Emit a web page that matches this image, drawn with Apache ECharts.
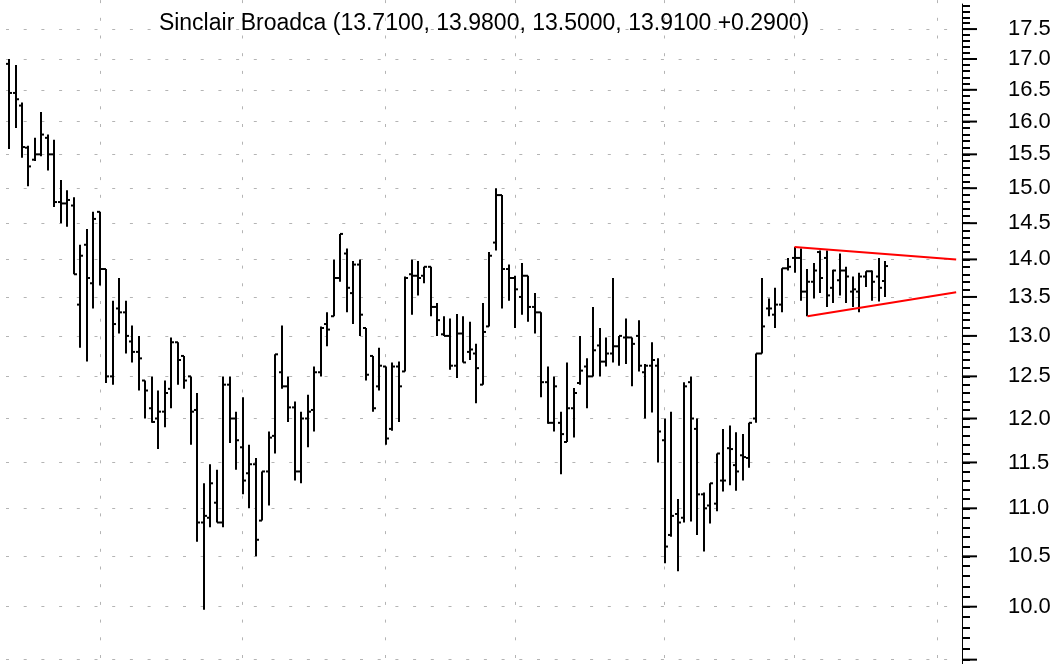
<!DOCTYPE html>
<html>
<head>
<meta charset="utf-8">
<title>Sinclair Broadca</title>
<script src="https://cdn.jsdelivr.net/npm/echarts@6/dist/echarts.min.js"></script>
<style>
  html, body { margin: 0; padding: 0; background: #fff; }
  #chart { width: 1061px; height: 664px; }
</style>
</head>
<body>
<div id="chart"></div>
<script>
// daily OHLC bars, oldest first
const opens = [
  16.92, 16.45, 16.25, 15.6, 15.42, 15.5, 15.75, 15.5, 14.8, 14.78,
  14.75, 13.4, 14.2, 13.68, 14.66, 13.87, 12.5, 13.35, 13.3, 12.93,
  12.8, 12.45, 12.12, 12.0, 12.08, 12.35, 12.92, 12.75, 12.5, 12.1,
  10.85, 10.9, 11.06, 10.85, 12.4, 12.0, 11.67, 11.38, 11.48, 10.87,
  11.4, 11.8, 12.55, 12.38, 12.13, 11.4, 12.0, 12.1, 12.55, 13.15,
  13.25, 13.75, 14.08, 13.55, 13.93, 13.1, 12.75, 12.38, 12.62, 11.88,
  12.62, 12.56, 13.8, 13.78, 13.78, 13.9, 13.37, 13.02, 13.0, 12.63,
  13.03, 12.8, 12.78, 12.4, 13.12, 14.23, 14.9, 13.87, 13.75, 13.5,
  13.78, 13.37, 13.3, 12.43, 11.95, 11.95, 11.73, 12.12, 12.42, 12.62,
  12.5, 12.88, 12.68, 12.78, 12.87, 12.98, 12.98, 13.0, 12.55, 12.63,
  12.63, 11.75, 10.72, 10.94, 10.9, 12.43, 11.88, 11.15, 11.03, 11.05,
  11.3, 11.66, 11.47, 11.58, 11.55, 12.0, 12.78, 13.35, 13.27, 13.4,
  13.88, 14.02, 14.02, 13.57, 13.7, 14.1, 14.02, 13.62, 13.72, 13.85,
  13.57, 13.57, 13.77, 13.84, 13.77, 13.71
]
const highs = [
  17.0, 16.9, 16.3, 15.63, 15.75, 16.15, 15.8, 15.72, 15.12, 14.97,
  14.87, 14.2, 14.42, 14.66, 14.66, 13.87, 13.45, 13.75, 13.45, 13.13,
  13.0, 12.45, 12.5, 12.33, 12.45, 12.98, 12.92, 12.75, 12.5, 12.3,
  11.27, 11.48, 11.42, 12.5, 12.5, 12.08, 12.25, 11.7, 11.55, 11.4,
  11.85, 12.77, 13.13, 12.5, 12.2, 12.08, 12.28, 12.62, 13.12, 13.3,
  14.0, 14.35, 14.15, 13.98, 14.0, 13.1, 12.75, 12.85, 12.62, 12.67,
  12.68, 13.77, 14.0, 13.98, 13.9, 13.9, 13.42, 13.25, 13.22, 13.28,
  13.25, 13.18, 12.9, 13.42, 14.1, 15.0, 14.9, 13.93, 13.78, 13.95,
  13.78, 13.55, 13.3, 12.62, 12.5, 12.08, 12.67, 12.36, 13.0, 12.72,
  13.37, 13.1, 12.98, 13.75, 13.0, 13.22, 12.98, 13.2, 12.65, 12.92,
  12.72, 12.0, 12.08, 11.1, 12.43, 12.5, 12.0, 11.17, 11.27, 11.6,
  11.88, 11.92, 11.84, 11.82, 11.95, 12.78, 13.75, 13.48, 13.62, 13.88,
  14.02, 14.17, 14.15, 13.87, 13.95, 14.12, 14.12, 13.86, 14.08, 13.9,
  13.77, 13.82, 13.84, 13.85, 14.02, 13.98
]
const lows = [
  15.58, 15.9, 15.45, 15.03, 15.4, 15.47, 15.26, 14.73, 14.5, 14.45,
  13.8, 12.85, 12.68, 13.35, 13.65, 12.42, 12.4, 13.03, 12.78, 12.67,
  12.33, 12.0, 11.95, 11.65, 11.9, 12.12, 12.4, 12.35, 11.7, 10.65,
  9.97, 10.8, 10.85, 10.8, 11.72, 11.42, 11.15, 11.0, 10.5, 10.87,
  11.03, 11.6, 12.35, 11.96, 11.3, 11.27, 11.67, 11.85, 12.5, 12.87,
  13.25, 13.7, 13.3, 13.15, 13.0, 12.45, 12.08, 12.33, 11.7, 11.86,
  11.96, 12.56, 13.27, 13.52, 13.68, 13.25, 13.0, 13.0, 12.58, 12.48,
  12.67, 12.7, 12.18, 12.4, 13.12, 14.12, 13.35, 13.45, 13.1, 13.27,
  13.18, 13.03, 12.25, 11.94, 11.85, 11.37, 11.73, 11.78, 12.4, 12.12,
  12.5, 12.5, 12.62, 12.67, 12.63, 12.65, 12.38, 12.56, 12.0, 12.07,
  11.5, 10.43, 10.7, 10.35, 10.85, 10.86, 10.72, 10.55, 10.84, 10.97,
  11.18, 11.25, 11.19, 11.3, 11.44, 11.95, 12.78, 13.25, 13.1, 13.3,
  13.85, 13.82, 13.45, 13.25, 13.48, 13.55, 13.37, 13.42, 13.52, 13.42,
  13.37, 13.3, 13.63, 13.45, 13.44, 13.5
]
const closes = [
  16.45, 16.35, 15.61, 15.32, 15.5, 15.8, 15.5, 14.8, 14.78, 14.83,
  13.8, 14.05, 13.75, 14.56, 13.87, 12.5, 13.15, 13.3, 13.0, 12.8,
  12.72, 12.33, 11.96, 12.08, 12.3, 12.92, 12.7, 12.45, 12.08, 10.85,
  10.92, 11.27, 10.85, 12.4, 12.0, 11.75, 11.3, 11.48, 10.67, 11.4,
  11.78, 12.77, 12.38, 12.13, 11.4, 12.0, 12.08, 12.55, 13.1, 13.08,
  13.75, 14.35, 13.62, 13.93, 13.27, 12.52, 12.12, 12.63, 11.77, 12.62,
  12.38, 13.75, 13.78, 13.75, 13.9, 13.37, 13.2, 13.0, 12.63, 13.03,
  12.67, 12.83, 12.6, 13.05, 14.05, 14.9, 13.87, 13.75, 13.6, 13.78,
  13.37, 13.3, 12.43, 11.95, 12.38, 11.82, 12.12, 12.3, 12.57, 12.5,
  12.82, 12.68, 12.78, 12.87, 13.0, 12.98, 12.9, 12.63, 12.63, 12.7,
  11.85, 10.6, 10.92, 10.85, 12.38, 12.0, 11.15, 11.0, 11.27, 11.6,
  11.3, 11.65, 11.4, 11.56, 11.95, 12.78, 13.12, 13.35, 13.4, 13.88,
  13.9, 14.02, 13.57, 13.7, 13.85, 13.75, 13.52, 13.85, 13.85, 13.77,
  13.6, 13.77, 13.84, 13.7, 13.62, 13.91
]

// bar index of the first session of each month (vertical grid)
const monthStarts = [14, 36, 58, 78, 101, 121, 143]

// price axis (log scale)
const priceLabels = [10.0, 10.5, 11.0, 11.5, 12.0, 12.5, 13.0, 13.5, 14.0, 14.5, 15.0, 15.5, 16.0, 16.5, 17.0, 17.5]
const majorTicks = [9.5, 10.0, 10.5, 11.0, 11.5, 12.0, 12.5, 13.0, 13.5, 14.0, 14.5, 15.0, 15.5, 16.0, 16.5, 17.0, 17.5]

// triangle drawn on the last weeks: [bar index, price]
const triangleUpper = [[121, 14.17], [145.9, 14.0]]
const triangleLower = [[123, 13.25], [145.9, 13.56]]

const titleText = 'Sinclair Broadca (13.7100, 13.9800, 13.5000, 13.9100 +0.2900)'

const ln = Math.log
const minorTicks = []
for (let t = 95; t <= 179; t++) {
  minorTicks.push(ln(t / 10))
}

const bars = opens.map((o, i) => [i, ln(o), ln(highs[i]), ln(lows[i]), ln(closes[i])])
const gridDots = { color: '#b4b4b4', width: 1, type: [3, 14.7], dashOffset: 11.7 }
const fontFamily = '"Liberation Sans", Arial, sans-serif'
const yMin = ln(9.46)
const yMax = ln(18.0)
const pxPerLog = 664 / (yMax - yMin)

const chart = echarts.init(document.getElementById('chart'))

chart.setOption({
  animation: false,
  backgroundColor: '#fff',
  // grid 1 only carries the axis line and the minor ticks (starts 4px lower)
  grid: [
    { left: 0, right: 99, top: 0, bottom: 0 },
    { left: 0, right: 99, top: 4, bottom: 0 }
  ],
  graphic: [{
    type: 'text',
    x: 484,
    y: 24,
    z: 100,
    style: {
      text: titleText,
      fontSize: 23,
      fontFamily: fontFamily,
      fill: '#000',
      align: 'center',
      verticalAlign: 'middle'
    }
  }],
  xAxis: [0, 1].map(g => ({ type: 'value', gridIndex: g, min: -1.39, max: 146.8, show: false })),
  yAxis: [{
    type: 'value',
    gridIndex: 0,
    position: 'right',
    min: yMin,
    max: yMax,
    axisLine: { show: false, onZero: false },
    axisTick: { show: false, customValues: majorTicks.map(ln) },
    axisLabel: {
      customValues: priceLabels.map(ln),
      formatter: v => Math.exp(v).toFixed(1),
      margin: 46,
      fontSize: 22,
      fontFamily: fontFamily,
      color: '#000'
    },
    splitLine: { show: true, lineStyle: gridDots }
  }, {
    type: 'value',
    gridIndex: 1,
    position: 'right',
    min: yMin,
    max: yMax - 4 / pxPerLog,
    axisLine: { show: true, onZero: false, lineStyle: { color: '#000', width: 1 } },
    axisTick: {
      show: true,
      customValues: minorTicks,
      length: 8,
      lineStyle: { color: '#000', width: 2 }
    },
    axisLabel: { show: false },
    splitLine: { show: false }
  }],
  series: [
    {
      // vertical month separators
      type: 'line',
      data: [],
      z: 1,
      markLine: {
        silent: true,
        symbol: 'none',
        label: { show: false },
        lineStyle: gridDots,
        data: monthStarts.map(m => ({ xAxis: m }))
      }
    },
    {
      // long ticks of the price axis at every half dollar
      type: 'custom',
      silent: true,
      clip: false,
      z: 12,
      encode: { x: 0, y: 1 },
      data: majorTicks.map(v => [0, ln(v)]),
      renderItem(params, api) {
        const p = api.coord([0, api.value(1)])
        const x = params.coordSys.x + params.coordSys.width
        return {
          type: 'line',
          shape: { x1: x, y1: p[1], x2: x + 15, y2: p[1] },
          style: { stroke: '#000', lineWidth: 2 }
        }
      }
    },
    {
      type: 'custom',
      z: 10,
      encode: { x: 0, y: [1, 2, 3, 4] },
      data: bars,
      renderItem(params, api) {
        const i = api.value(0)
        const o = api.coord([i, api.value(1)])
        const h = api.coord([i, api.value(2)])
        const l = api.coord([i, api.value(3)])
        const c = api.coord([i, api.value(4)])
        const x = Math.round(o[0])
        const style = { stroke: '#000', lineWidth: 2 }
        return {
          type: 'group',
          children: [
            { type: 'line', shape: { x1: x, y1: h[1], x2: x, y2: l[1] }, style },
            { type: 'line', shape: { x1: x - 3, y1: o[1], x2: x, y2: o[1] }, style },
            { type: 'line', shape: { x1: x, y1: c[1], x2: x + 3, y2: c[1] }, style }
          ]
        }
      }
    },
    {
      type: 'line',
      z: 11,
      symbol: 'none',
      data: triangleUpper.map(p => [p[0], ln(p[1])]),
      lineStyle: { color: '#ff0000', width: 2 }
    },
    {
      type: 'line',
      z: 11,
      symbol: 'none',
      data: triangleLower.map(p => [p[0], ln(p[1])]),
      lineStyle: { color: '#ff0000', width: 2 }
    }
  ]
})
</script>
</body>
</html>
